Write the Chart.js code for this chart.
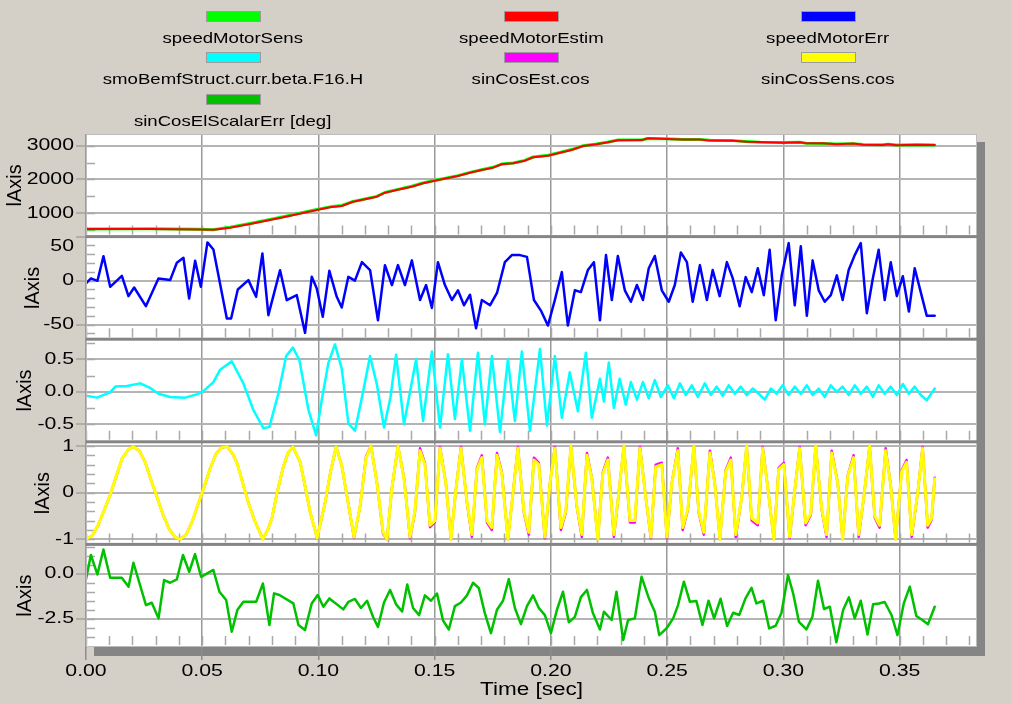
<!DOCTYPE html>
<html>
<head>
<meta charset="utf-8">
<title>Motor speed and sin/cos recorder</title>
<script src="https://cdn.jsdelivr.net/npm/chart.js@4.4.1/dist/chart.umd.min.js"></script>
<style>
  html, body { margin: 0; padding: 0; background: #d4d0c8; }
  #frame { position: relative; width: 1011px; height: 704px; overflow: hidden; background: #d4d0c8; }
  #chart { position: absolute; left: 0; top: 0; }
  #legend { position: absolute; left: 0; top: 0; width: 1011px; height: 130px; }
  .lg { position: absolute; width: 360px; margin-left: -180px; text-align: center;
        font-family: "Liberation Sans", Arial, sans-serif; font-size: 15px; line-height: 16px; color: #000; }
  .lg .sw { width: 53px; height: 9px; margin: 0 auto; border: 1px solid #9c9c9c; }
  .lg .tx { display: inline-block; transform: scaleX(1.24); transform-origin: 50% 50%; white-space: nowrap; }
</style>
</head>
<body>
<div id="frame">
  <canvas id="chart" width="1011" height="704"></canvas>
  <div id="legend"></div>
</div>
<script>
// ---- recorded signals: sample times in milliseconds, values in signal units ----

// motor speed [rpm]
const speedTimeMs = [0,27.6,49.1,54.7,62.0,70.6,84.9,99.3,105.0,110.0,114.9,120.0,125.1,128.6,133.7,140.1,145.0,150.1,155.2,160.0,165.2,170.2,175.1,178.8,183.8,188.8,192.4,198.8,203.9,208.9,213.9,219.6,224.6,228.9,239.0,241.8,249.7,256.9,264.1,268.4,278.4,284.1,289.9,299.9,307.1,309.9,317.1,322.8,330.0,334.3,342.9,345.0,348.6,357.2,365.1];
const speedMotorEstim = [536,536,520,510,574,683,882,1098,1177,1216,1343,1414,1492,1610,1689,1787,1888,1965,2036,2104,2201,2281,2349,2450,2479,2556,2657,2704,2793,2873,2991,3041,3101,3160,3165,3220,3200,3180,3185,3150,3148,3118,3110,3089,3105,3069,3069,3041,3065,3030,3021,3045,3012,3028,3021];
const speedMotorSens = [536,540,530,515,590,700,900,1110,1190,1230,1350,1425,1500,1615,1700,1800,1895,1975,2045,2115,2210,2290,2360,2455,2490,2565,2665,2715,2800,2885,3000,3050,3110,3170,3170,3215,3205,3185,3180,3160,3150,3125,3105,3095,3100,3075,3065,3050,3060,3035,3025,3040,3020,3030,3021];

// speed estimation error
const errTimeMs = [0,2.11,4.94,7.52,10.40,15.43,18.27,20.72,25.75,31.17,36.20,39.08,41.92,44.37,46.95,49.40,52.24,54.81,60.58,62.42,65.30,69.86,73.17,75.88,78.46,83.49,86.37,90.67,94.24,97.12,99.27,101.85,104.69,107.87,110.02,112.86,
  115.7,118.7,122.2,125.6,128.6,131.6,134.2,137.2,140.2,143.7,146.3,148.8,151.4,154.4,157.4,160.0,162.6,165.2,167.8,170.3,173.8,176.8,180.2,183.2,186.7,189.7,192.7,195.7,198.7,201.7,204.7,207.3,210.3,212.9,215.9,218.5,221.1,223.7,226.2,228.8,231.8,234.4,237.0,239.6,242.1,244.7,247.7,250.7,253.3,255.9,258.5,261.0,264.1,267.1,269.6,272.6,275.7,278.2,281.2,283.8,286.4,289.0,291.6,294.1,296.7,299.3,302.3,304.9,307.5,310.1,312.6,315.2,317.8,320.4,323.0,325.5,328.1,330.7,333.3,335.9,338.5,341.0,343.6,346.2,348.8,351.4,354.0,356.5,359.1,361.7,365.1];
const speedMotorErr = [-3.2,2.5,-0.2,27.8,-7,5.5,-17.6,-7.8,-29,2.5,0.6,20.3,26,-20.3,22.5,-7,43.4,35.4,-43,-43,-10,0.6,-18.4,30.9,-39.2,11.9,-22.2,-16.5,-59.3,4.3,-8.9,-41.1,11.1,-18.4,-30.5,4.3,
  0,21,12,-45,17.6,-5,17.6,-5,23,-22,-5,-31,21,-5,-22,-11,-28,-16,-54,-22,-28,-14,21,29,29,27,-22,-34,-51,-22,9.7,-51,-11,-13,12,21,-45,29,-22,28,-11,-24,-5,-22,14,28,-11,-24,-5,32,21,-24,17.6,-22,12,-17.6,21,2.8,-29,4,-13,14,-16.5,35,-45,6,42.6,-28,39,-40,23,-11,-24,-16.5,6,-22,12,29,42.6,-37,2.8,35,-22,21,-17.6,5,-35,14,-13,-40,-40];

// back-EMF observer, beta component
const bemfTimeMs = [0,4.7,10.4,12.6,17.6,23.3,27.6,31.2,36.2,42.6,47.7,50.5,54.8,57.7,62.7,67.7,72.0,76.3,78.9,82.8,86.1,89.0,91.8,95.7,99.0,101.4,104.3,107.1,110.0,112.9,
  115.7,119.2,122.2,125.2,128.2,130.9,133.4,136.8,139.4,142.0,145.0,148.8,152.3,155.7,158.7,161.7,165.2,168.6,171.6,174.6,178.1,181.5,184.5,187.5,191.0,195.3,198.3,201.7,204.7,208.1,211.6,215.0,217.6,221.1,222.8,224.9,227.1,229.6,232.2,234.4,237.0,239.6,242.1,244.7,247.3,250.3,252.9,255.5,258.0,260.6,263.2,266.2,268.8,271.3,273.9,276.5,279.1,281.7,284.2,286.8,289.4,292.0,294.6,297.1,299.7,302.3,304.9,307.5,310.1,312.6,315.2,317.8,320.4,323.0,325.5,328.1,330.7,333.3,335.9,338.5,341.0,343.6,346.2,348.8,351.4,354.0,356.5,359.1,361.7,365.1];
const smoBemfBeta = [-0.06,-0.09,-0.01,0.08,0.09,0.13,0.06,-0.03,-0.08,-0.09,-0.04,0.01,0.15,0.34,0.47,0.13,-0.28,-0.56,-0.54,-0.02,0.55,0.68,0.49,-0.28,-0.67,-0.13,0.45,0.73,0.36,-0.49,
  -0.60,0.0,0.55,0.1,-0.55,-0.1,0.57,-0.50,0.0,0.50,-0.45,0.62,-0.55,0.58,-0.42,0.50,-0.60,0.60,-0.50,0.55,-0.62,0.50,-0.45,0.62,-0.60,0.66,-0.52,0.55,-0.40,0.30,-0.30,0.60,-0.40,0.20,-0.15,0.45,-0.25,0.20,-0.20,0.15,-0.12,0.15,-0.10,0.18,-0.08,0.10,-0.10,0.13,-0.05,0.10,-0.08,0.13,-0.05,0.08,-0.06,0.10,-0.03,0.08,-0.05,0.05,-0.03,-0.12,0.05,-0.03,0.10,-0.05,0.08,-0.03,0.10,-0.05,0.05,-0.08,0.10,0.00,0.08,-0.05,0.10,-0.03,0.08,-0.08,0.10,-0.03,0.08,-0.05,0.12,-0.03,0.08,-0.05,-0.13,0.05];

// sin/cos position: cosine channel, estimated and sensed
const cosTimeMs = [0,2.7,5.2,7.8,10.4,13.0,15.6,18.2,20.3,22.9,25.4,28.0,30.6,33.2,35.8,38.4,40.5,43.1,45.7,48.2,50.8,53.4,56.0,58.5,60.7,63.3,65.0,67.2,69.7,72.7,76.1,78.3,80.0,82.2,84.9,86.9,89.0,92.1,94.2,96.4,99.4,102.8,105.2,107.6,110.0,112.9,
  115.3,117.9,120.5,122.6,125.2,127.8,129.5,131.6,134.2,136.8,139.4,141.5,143.7,145.8,148.0,150.1,152.3,154.8,157.0,159.2,161.3,163.9,166.0,168.2,170.3,172.5,174.6,176.8,178.9,181.5,183.7,185.8,188.4,190.5,192.7,194.8,197.4,199.6,201.7,204.3,206.4,208.6,211.2,213.3,215.5,217.6,220.2,222.3,224.5,227.1,229.2,231.4,234.0,236.1,238.3,240.8,243.0,245.1,247.7,249.9,252.0,254.6,256.7,258.9,261.5,263.6,265.8,268.4,270.5,272.7,275.2,277.4,279.5,282.1,284.2,286.4,289.0,291.1,293.3,295.9,298.0,300.2,302.7,304.9,307.0,309.6,311.8,313.9,316.5,318.6,320.8,323.4,325.5,327.7,330.2,332.4,334.6,337.1,339.3,341.4,344.0,346.2,348.3,350.9,353.0,355.2,357.8,359.9,362.1,363.8,365.1];
const sinCosSensCos = [-1.0,-0.92,-0.70,-0.38,-0.05,0.35,0.74,0.92,0.99,0.90,0.66,0.27,-0.10,-0.48,-0.78,-0.96,-1.0,-0.90,-0.62,-0.25,0.12,0.52,0.84,0.97,0.99,0.82,0.63,0.25,-0.19,-0.62,-1.0,-0.78,-0.55,0.0,0.56,0.85,0.98,0.66,0.15,-0.41,-0.97,-0.23,0.45,0.98,0.59,-0.26,
  -0.95,-0.3,0.75,1.0,0.2,-0.85,-1.0,0.1,1.0,0.3,-0.95,-0.4,0.9,0.6,-0.7,-0.6,0.95,0.2,-1.0,0.1,0.95,-0.2,-0.9,0.5,0.75,-0.6,-0.75,0.8,0.4,-1.0,0.0,0.95,-0.4,-0.85,0.7,0.6,-0.95,0.2,0.95,-0.75,-0.4,1.0,-0.3,-0.9,0.8,0.3,-1.0,0.4,0.7,-0.9,0.0,1.0,-0.6,-0.6,0.95,-0.1,-0.95,0.55,0.6,-0.95,0.2,0.9,-0.75,-0.35,1.0,-0.4,-0.85,0.85,0.2,-1.0,0.45,0.7,-0.9,-0.1,1.0,-0.55,-0.65,0.95,0.1,-1.0,0.5,0.6,-0.95,0.05,0.95,-0.65,-0.45,1.0,-0.35,-0.9,0.85,0.2,-1.0,0.35,0.75,-0.9,-0.1,1.0,-0.5,-0.7,0.9,0.15,-1.0,0.45,0.65,-0.9,0.0,0.95,-0.7,-0.55,0.3];
const sinCosEstCos = [-1.0,-0.92,-0.70,-0.38,-0.05,0.35,0.74,0.92,0.99,0.90,0.66,0.27,-0.10,-0.48,-0.78,-0.96,-1.0,-0.90,-0.62,-0.25,0.12,0.52,0.84,0.97,0.99,0.82,0.63,0.25,-0.19,-0.62,-1.0,-0.78,-0.55,0.0,0.56,0.85,0.98,0.66,0.15,-0.41,-0.97,-0.23,0.45,0.98,0.59,-0.26,
  -0.97,-0.3,0.78,1.0,0.2,-0.88,-1.0,0.1,1.0,0.32,-0.98,-0.42,0.95,0.63,-0.74,-0.63,0.98,0.2,-1.0,0.1,0.98,-0.22,-0.95,0.53,0.8,-0.64,-0.8,0.85,0.43,-1.0,0.0,0.98,-0.43,-0.9,0.75,0.64,-0.98,0.2,0.98,-0.8,-0.43,1.0,-0.32,-0.95,0.85,0.32,-1.0,0.43,0.75,-0.95,0.0,1.0,-0.64,-0.64,0.98,-0.1,-0.98,0.6,0.64,-0.98,0.2,0.95,-0.8,-0.37,1.0,-0.43,-0.9,0.9,0.2,-1.0,0.48,0.75,-0.95,-0.1,1.0,-0.6,-0.7,0.98,0.1,-1.0,0.53,0.64,-0.98,0.05,0.98,-0.7,-0.48,1.0,-0.37,-0.95,0.9,0.2,-1.0,0.37,0.8,-0.95,-0.1,1.0,-0.53,-0.75,0.95,0.15,-1.0,0.48,0.7,-0.95,0.0,0.98,-0.75,-0.58,0.32];

// electrical angle error [deg]
const elErrTimeMs = [0,2.1,4.9,7.5,10.4,15.4,18.3,20.4,25.8,28.3,31.2,33.6,36.2,39.1,41.7,44.4,46.9,49.5,54.8,57.4,60.3,62.7,65.1,67.7,73.2,76.1,78.9,80.9,83.2,89.2,91.4,94.2,97.1,99.7,102.1,104.7,110.7,112.9,
  115.7,118.3,120.9,123.5,125.6,128.2,130.8,133.4,136.0,138.2,140.7,143.3,145.8,148.4,151.0,153.6,156.1,158.7,161.3,163.9,166.5,169.0,171.6,174.2,176.8,179.4,181.9,184.5,187.1,189.7,192.3,194.8,197.4,200.0,202.6,205.2,207.7,210.3,212.9,215.5,218.1,221.1,
  222.8,226.1,228.2,231.1,233.2,236.1,239.0,242.3,244.7,246.6,249.7,252.6,254.7,257.2,259.8,262.6,265.2,267.8,270.2,273.0,275.8,278.4,281.0,283.7,286.3,288.4,291.3,293.9,296.7,299.2,302.0,304.2,306.7,309.9,312.5,314.9,317.5,320.0,322.8,325.7,328.2,330.7,333.3,336.2,338.6,341.1,343.6,346.5,349.1,351.8,354.4,357.2,359.8,362.2,365.1];
const sinCosElScalarErr = [-0.31,1.04,-0.04,1.35,-0.22,-0.22,-0.72,0.61,-1.74,-1.61,-2.48,-0.35,-0.50,-0.31,1.04,0.11,1.09,-0.17,0.21,-1.0,-1.46,-3.22,-2.02,-1.56,-1.56,-0.54,-2.85,-1.09,-1.18,-1.65,-2.85,-3.13,-1.65,-1.18,-1.83,-1.37,-1.98,-1.56,
  -1.4,-1.9,-1.5,-2.4,-2.95,-1.6,-0.9,-1.7,-2.1,-0.6,-1.9,-2.3,-1.2,-1.5,-1.1,-2.6,-3.1,-1.8,-1.6,-1.2,-0.5,-0.8,-2.2,-3.3,-2.0,-1.5,-0.3,-1.9,-2.8,-1.8,-1.2,-1.9,-2.3,-3.3,-2.0,-1.0,-2.7,-2.4,-1.3,-0.9,-2.2,-3.1,
  -2.11,-2.57,-1.0,-3.68,-2.57,-2.48,-0.17,-1.42,-2.11,-3.41,-3.04,-2.48,-1.74,-0.44,-1.56,-1.52,-2.85,-1.5,-2.48,-1.39,-2.9,-2.17,-2.29,-1.37,-0.78,-1.65,-1.5,-3.04,-2.89,-2.17,-0.07,-1.09,-2.67,-3.09,-2.39,-0.39,-1.96,-1.83,-3.81,-2.02,-1.31,-2.48,-1.5,-3.37,-1.7,-1.65,-1.57,-2.29,-3.41,-1.65,-0.72,-2.35,-2.57,-2.81,-1.83];

// ---- axis tick labels ----
const timeTicks = [0, 0.05, 0.10, 0.15, 0.20, 0.25, 0.30, 0.35];
const speedTicks = [1000, 2000, 3000];
const errTicks = [-50, 0, 50];
const bemfTicks = [-0.5, 0, 0.5];
const cosTicks = [-1, 0, 1];
const elErrTicks = [-2.5, 0];

const seriesNames = ['speedMotorSens', 'speedMotorEstim', 'speedMotorErr',
  'smoBemfStruct.curr.beta.F16.H', 'sinCosEst.cos', 'sinCosSens.cos', 'sinCosElScalarErr [deg]'];

// ---- look ----
const FONT = '"Liberation Sans", Arial, sans-serif';
const TEXT_WIDEN = 1.25;
const GRID_H = '#b4b4b4';
const GRID_V = '#9a9a9a';
const MINOR = '#a8a8a8';

const toPoints = (tms, vals) => vals.map((v, i) => ({ x: tms[i] / 1000, y: v }));

const datasets = [
  { label: seriesNames[0], data: toPoints(speedTimeMs, speedMotorSens), yAxisID: 'ySpeed', borderColor: '#00ff00', borderWidth: 3, order: 2 },
  { label: seriesNames[1], data: toPoints(speedTimeMs, speedMotorEstim), yAxisID: 'ySpeed', borderColor: '#ff0000', borderWidth: 2, order: 1 },
  { label: seriesNames[2], data: toPoints(errTimeMs, speedMotorErr), yAxisID: 'yErr', borderColor: '#0000ff', borderWidth: 2.5, order: 1 },
  { label: seriesNames[3], data: toPoints(bemfTimeMs, smoBemfBeta), yAxisID: 'yBemf', borderColor: '#00ffff', borderWidth: 2.5, order: 1 },
  { label: seriesNames[4], data: toPoints(cosTimeMs, sinCosEstCos), yAxisID: 'yCos', borderColor: '#ff00ff', borderWidth: 2.5, order: 2 },
  { label: seriesNames[5], data: toPoints(cosTimeMs, sinCosSensCos), yAxisID: 'yCos', borderColor: '#ffff00', borderWidth: 3, order: 1 },
  { label: seriesNames[6], data: toPoints(elErrTimeMs, sinCosElScalarErr), yAxisID: 'yEl', borderColor: '#00c000', borderWidth: 2.5, order: 1 }
];
datasets.forEach(d => { d.backgroundColor = d.borderColor; });

// minor tick spacing per axis
const minorStep = { ySpeed: 500, yErr: 10, yBemf: 0.25, yCos: 0.2, yEl: 0.5 };
const X_MINOR = 0.01;

function panelAxis(ticks, min, max, fmt, titlePad) {
  return {
    type: 'linear', position: 'left', stack: 'panels', stackWeight: 1,
    min: min, max: max,
    afterBuildTicks: s => { s.ticks = ticks.map(v => ({ value: v })); },
    afterFit: s => { s.width = 86; },
    ticks: { font: { size: 17, family: FONT }, color: '#000', padding: 2, autoSkip: false, callback: fmt },
    grid: { color: GRID_H, lineWidth: 2, tickLength: 10, tickColor: '#8c8c8c', tickWidth: 1 },
    border: { display: true, color: '#a0a0a0', width: 1 },
    title: { display: true, text: 'lAxis', color: '#000', font: { size: 20, family: FONT }, padding: { top: titlePad, bottom: 0 } }
  };
}

// The top label of the error panel sits just below its tick, so it is
// written as a two-line label whose first line is empty.
const errLabel = v => (v === 50 ? ['', '50'] : [String(v)]);

// Widen horizontal canvas text (axis labels use a broad face)
const widenText = {
  id: 'widenText',
  beforeInit(chart) {
    const ctx = chart.ctx;
    const fill = ctx.fillText.bind(ctx);
    ctx.fillText = function (text, x, y, maxWidth) {
      const m = ctx.getTransform();
      if (Math.abs(m.b) > 1e-6 || Math.abs(m.c) > 1e-6) return fill(text, x, y, maxWidth);
      ctx.save();
      ctx.translate(x, y);
      ctx.scale(TEXT_WIDEN, 1);
      fill(text, 0, 0);
      ctx.restore();
    };
  }
};

// White plot area, drop shadow, minor ticks, panel separators
const plotFrame = {
  id: 'plotFrame',
  beforeDraw(chart) {
    const { ctx, chartArea: a } = chart;
    ctx.save();
    ctx.fillStyle = '#858585';
    ctx.fillRect(a.left + 8, a.top + 8, a.width, a.height + 1);
    ctx.fillStyle = '#ffffff';
    ctx.fillRect(a.left, a.top, a.width, a.height);
    ctx.restore();
  },
  beforeDatasetsDraw(chart) {
    const { ctx, chartArea: a, scales } = chart;
    const xs = scales.x;
    ctx.save();
    ctx.strokeStyle = MINOR;
    ctx.lineWidth = 1.5;
    ctx.beginPath();
    Object.keys(minorStep).forEach(id => {
      const s = scales[id];
      const st = minorStep[id];
      for (let v = Math.ceil(s.min / st) * st; v <= s.max + 1e-9; v += st) {
        const y = Math.round(s.getPixelForValue(v)) + 0.5;
        if (y < s.top + 2 || y > s.bottom - 2) continue;
        ctx.moveTo(a.left, y); ctx.lineTo(a.left + 9, y);
      }
      for (let t = 0; t <= xs.max + 1e-9; t += X_MINOR) {
        const x = Math.round(xs.getPixelForValue(t)) + 0.5;
        ctx.moveTo(x, s.bottom - 2); ctx.lineTo(x, s.bottom - 11);
      }
    });
    ctx.stroke();
    ctx.restore();
  },
  beforeDatasetDraw(chart, args) {
    const s = chart.scales[args.meta.yAxisID];
    const a = chart.chartArea;
    chart.ctx.save();
    chart.ctx.beginPath();
    chart.ctx.rect(a.left, s.top, a.width, s.height);
    chart.ctx.clip();
  },
  afterDatasetDraw(chart) { chart.ctx.restore(); },
  afterDatasetsDraw(chart) {
    const { ctx, chartArea: a, scales } = chart;
    const panels = Object.keys(minorStep).map(id => scales[id]).sort((p, q) => p.top - q.top);
    ctx.save();
    ctx.strokeStyle = '#bcbcbc';
    ctx.lineWidth = 1;
    ctx.strokeRect(a.left + 0.5, a.top + 0.5, a.width - 1, a.height - 1);
    ctx.fillStyle = '#858585';
    for (let i = 1; i < panels.length; i++) {
      ctx.fillRect(a.left, panels[i].top - 1.5, a.width, 3);
    }
    ctx.restore();
  }
};

const chart = new Chart(document.getElementById('chart'), {
  type: 'line',
  data: { datasets },
  plugins: [widenText, plotFrame],
  options: {
    responsive: false,
    animation: false,
    parsing: false,
    normalized: true,
    layout: { padding: { top: 134, right: 34, left: 0, bottom: 0 } },
    elements: { point: { radius: 0 }, line: { tension: 0, borderJoinStyle: 'round', borderCapStyle: 'round' } },
    plugins: { legend: { display: false }, tooltip: { enabled: false } },
    scales: {
      x: {
        type: 'linear', position: 'bottom', min: 0, max: 0.3833,
        afterBuildTicks: s => { s.ticks = timeTicks.map(v => ({ value: v })); },
        afterFit: s => { s.height = 57; },
        ticks: { font: { size: 17, family: FONT }, color: '#000', padding: 1, maxRotation: 0, autoSkip: false, callback: v => v.toFixed(2) },
        grid: { color: GRID_V, lineWidth: 1.5, tickLength: 13, tickColor: '#8c8c8c' },
        border: { display: false },
        title: { display: true, text: 'Time [sec]', color: '#000', font: { size: 18, family: FONT }, padding: { top: 0, bottom: 3 } }
      },
      yEl: panelAxis(elErrTicks, -4.07, 1.63, v => v.toFixed(1), 13),
      yCos: panelAxis(cosTicks, -1.11, 1.09, v => String(v), 31),
      yBemf: panelAxis(bemfTicks, -0.77, 0.81, v => v.toFixed(1), 13),
      yErr: panelAxis(errTicks, -66.5, 50, errLabel, 21),
      ySpeed: panelAxis(speedTicks, 310, 3346, v => String(v), 3)
    }
  }
});

// Legend: three columns, colour bar above each name
(function buildLegend() {
  const colX = [233, 531, 828];
  const rowY = [11, 52, 94];
  const box = document.getElementById('legend');
  seriesNames.forEach((name, i) => {
    const ds = chart.data.datasets[i];
    const el = document.createElement('div');
    el.className = 'lg';
    el.style.left = colX[i % 3] + 'px';
    el.style.top = rowY[Math.floor(i / 3)] + 'px';
    el.innerHTML = '<div class="sw" style="background:' + ds.borderColor + '"></div>' +
      '<div style="margin-top:8px"><span class="tx"></span></div>';
    el.querySelector('.tx').textContent = ds.label;
    box.appendChild(el);
  });
})();
</script>
</body>
</html>
